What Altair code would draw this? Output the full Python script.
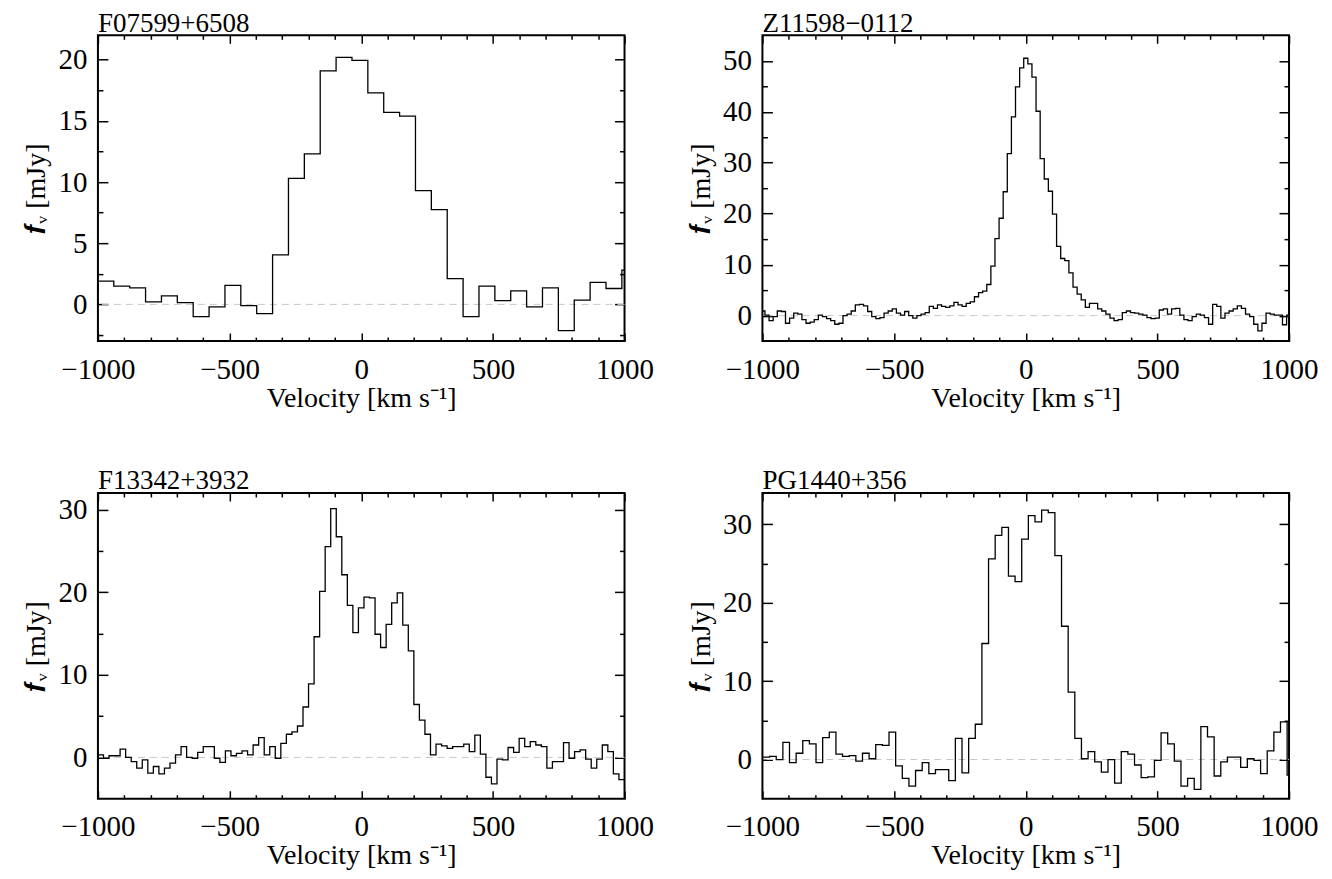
import altair as alt
import numpy as np
import pandas as pd

FONT = "Liberation Serif"

names = ["F07599+6508", "Z11598\u22120112", "F13342+3932", "PG1440+356"]

# velocity grid of each spectrum: first channel edge and channel width (km/s)
p1_start, p1_width = -1060.3, 60.3
p2_start, p2_width = -1006.0, 15.6
p3_start, p3_width = -1000.0, 21.05
p4_start, p4_width = -998.0, 25.2

# flux density per channel (mJy)
p1_flux = [1.0, 1.9, 1.5, 1.35, 0.2, 0.7, 0.15, -1.0, -0.2, 1.55,
           -0.1, -0.75, 4.05, 10.3, 12.3, 19.1, 20.2, 19.95, 17.3, 15.7,
           15.4, 9.3, 7.75, 2.1, -1.0, 1.5, 0.3, 1.1, -0.2, 1.35,
           -2.15, 0.35, 1.8, 1.3, 2.8]

p2_flux = [0.9, 0.1, -1.0, -0.2, 0.9, 0.8, -1.5, -0.5, 0.5, 0.3,
           -0.8, -1.5, -1.3, -0.8, 0.1, -0.2, -0.6, -1.0, -1.7, -1.5,
           0.0, 0.3, 0.9, 2.1, 2.2, 1.9, 0.8, -0.2, -0.6, -0.4,
           0.5, 0.9, 1.3, 0.5, 0.1, 0.8, 0.0, -0.5, 0.0, 0.3,
           0.6, 1.8, 1.4, 2.1, 1.8, 1.6, 1.9, 2.6, 2.1, 1.8,
           2.4, 2.7, 3.7, 4.5, 4.8, 6.1, 9.7, 15.1, 19.1, 24.3,
           31.8, 39.0, 44.9, 48.6, 50.5, 49.4, 46.8, 40.1, 30.8, 26.8,
           24.4, 19.9, 13.6, 11.2, 10.8, 8.4, 5.6, 4.2, 3.1, 1.6,
           2.4, 2.4, 1.3, 0.9, 0.3, -0.5, -1.0, -0.8, 0.6, 0.9,
           0.6, 0.5, 0.3, 0.1, -0.4, -0.6, -0.5, 1.1, 1.3, 0.3,
           1.3, 1.4, 0.1, -0.8, -1.0, -0.2, 0.3, 0.1, -0.4, -1.7,
           2.2, 1.8, -0.5, 0.5, 0.9, 1.3, 1.9, 1.4, 0.3, -0.2,
           -1.7, -3.0, -1.5, 0.5, 0.3, 0.1, 0.1, -1.8, 0.1]

p3_flux = [0.3, -0.1, 0.2, 0.2, 1.0, 0.0, -0.5, -1.3, -0.3, -1.9,
           -1.1, -2.0, -1.3, -0.7, 0.3, 1.3, 0.0, -0.1, 0.6, 1.3,
           1.3, -0.1, -0.6, 0.8, 0.2, 0.5, 0.8, 0.3, 1.5, 2.4,
           0.3, 1.3, -0.1, 1.7, 2.8, 3.1, 3.8, 6.1, 8.9, 14.6,
           20.1, 25.5, 30.1, 26.7, 22.1, 18.4, 15.1, 18.1, 19.4, 19.3,
           14.9, 13.3, 16.1, 18.7, 19.9, 16.0, 12.9, 6.4, 4.5, 2.8,
           0.3, 1.6, 1.4, 1.1, 1.3, 1.3, 1.6, 0.7, 2.7, 0.4,
           -2.4, -3.2, -0.2, -0.3, 1.2, 0.6, 2.3, 1.3, 1.9, 1.5,
           1.3, -1.3, -0.5, -0.5, 1.8, -0.1, 0.7, 0.9, -0.2, -1.3,
           -0.2, 1.5, 0.7, -2.0, -2.7]

p4_flux = [0.3, 0.4, 0.0, 2.2, -0.4, 0.8, 2.4, 2.0, -0.4, 2.8,
           3.5, 0.7, 0.4, 0.5, -0.2, 0.8, 0.1, 1.9, 1.8, 3.5,
           -0.8, -2.4, -3.4, -1.4, -0.4, -1.8, -1.3, -1.3, -2.7, 2.7,
           -1.7, 2.7, 4.5, 14.8, 25.6, 28.6, 29.6, 23.4, 22.7, 28.1,
           31.1, 30.3, 31.8, 31.5, 26.0, 17.0, 8.6, 2.7, 0.1, 1.0,
           -0.3, -1.6, 0.0, -3.0, 1.0, 0.7, -0.7, -2.3, -2.2, -0.1,
           3.4, 2.0, -0.2, -3.4, -2.4, -3.8, 4.2, 2.9, -2.1, -0.3,
           0.3, 0.3, -1.0, 0.1, -0.1, -1.8, 1.1, 3.5, 4.8, -2.0]

x_domain = [-1000, 1000]
x_major = [-1000, -500, 0, 500, 1000]
x_minor = [-900, -800, -700, -600, -400, -300, -200, -100,
           100, 200, 300, 400, 600, 700, 800, 900]

y_domains = [[-3, 22], [-5, 55], [-5, 32], [-5, 34]]
y_majors = [[0, 5, 10, 15, 20], [0, 10, 20, 30, 40, 50], [0, 10, 20, 30], [0, 10, 20, 30]]
y_minors = [[-2.5, 2.5, 7.5, 12.5, 17.5], [5, 15, 25, 35, 45], [5, 15, 25], [5, 15, 25]]

W, H = 527, 306
XMAJ, XMIN, YMAJ, YMIN = 8, 4, 10, 5


def tick_axis(orient, values, size):
    return alt.Axis(orient=orient, values=values, tickSize=size, offset=-size,
                    labels=False, title=None, domain=False, grid=False,
                    tickColor="black", tickWidth=1.5, minExtent=0, maxExtent=0)


def panel(name, start, width, flux, ydom, ymaj, ymin):
    n = len(flux)
    edges = start + width * np.arange(n + 1)
    df = pd.DataFrame({"v": edges, "f": list(flux) + [flux[-1]]})
    xs = alt.Scale(domain=x_domain, nice=False, zero=False)
    ys = alt.Scale(domain=ydom, nice=False, zero=False)
    base = alt.Chart(df)

    zero = alt.Chart(pd.DataFrame({"z": [0]})).mark_rule(
        color="#c8c8c8", strokeDash=[7, 5], strokeWidth=1
    ).encode(y=alt.Y("z:Q", scale=ys, axis=None))

    line = base.mark_line(interpolate="step-after", color="black",
                          strokeWidth=1.3, clip=True).encode(
        x=alt.X("v:Q", scale=xs, axis=alt.Axis(
            orient="bottom", values=x_major, tickSize=XMAJ, offset=-XMAJ,
            format="d", labelPadding=14, labelFlush=False, labelOverlap=False,
            title="Velocity [km s\u207b\u00b9]",
            titlePadding=0, domain=False, grid=False, tickColor="black",
            tickWidth=1.5, minExtent=0)),
        y=alt.Y("f:Q", scale=ys, axis=alt.Axis(
            orient="left", values=ymaj, tickSize=YMAJ, offset=-YMAJ,
            format="d", labelPadding=11, labelFlush=False, labelOverlap=False,
            title="\U0001D487\u1D65 [mJy]",
            titlePadding=7, domain=False, grid=False, tickColor="black",
            tickWidth=1.5, minExtent=0)),
    )
    t_major = base.mark_line(opacity=0).encode(
        x=alt.X("v:Q", scale=xs, axis=tick_axis("top", x_major, XMAJ)),
        y=alt.Y("f:Q", scale=ys, axis=tick_axis("right", ymaj, YMAJ)),
    )
    t_minor1 = base.mark_line(opacity=0).encode(
        x=alt.X("v:Q", scale=xs, axis=tick_axis("bottom", x_minor, XMIN)),
        y=alt.Y("f:Q", scale=ys, axis=tick_axis("left", ymin, YMIN)),
    )
    t_minor2 = base.mark_line(opacity=0).encode(
        x=alt.X("v:Q", scale=xs, axis=tick_axis("top", x_minor, XMIN)),
        y=alt.Y("f:Q", scale=ys, axis=tick_axis("right", ymin, YMIN)),
    )
    return alt.layer(zero, line, t_major, t_minor1, t_minor2).resolve_axis(
        x="independent", y="independent"
    ).properties(
        width=W, height=H,
        title=alt.TitleParams(name, anchor="start", frame="group",
                              baseline="alphabetic", offset=-24,
                              font=FONT, fontSize=27, fontWeight="normal",
                              color="black"),
    )


panels = [
    panel(names[0], p1_start, p1_width, p1_flux, y_domains[0], y_majors[0], y_minors[0]),
    panel(names[1], p2_start, p2_width, p2_flux, y_domains[1], y_majors[1], y_minors[1]),
    panel(names[2], p3_start, p3_width, p3_flux, y_domains[2], y_majors[2], y_minors[2]),
    panel(names[3], p4_start, p4_width, p4_flux, y_domains[3], y_majors[3], y_minors[3]),
]

chart = alt.vconcat(
    alt.hconcat(panels[0], panels[1], spacing=32),
    alt.hconcat(panels[2], panels[3], spacing=32),
    spacing=53,
).properties(
    padding={"left": 14, "top": 0, "right": 5, "bottom": 0},
    background="white",
).configure_view(
    stroke="black", strokeWidth=2
).configure_axis(
    labelFont=FONT, titleFont=FONT, labelFontSize=29, titleFontSize=28,
    titleFontWeight="normal", labelColor="black", titleColor="black",
)

chart.save("out.html", embed_options={"renderer": "svg", "actions": False})
